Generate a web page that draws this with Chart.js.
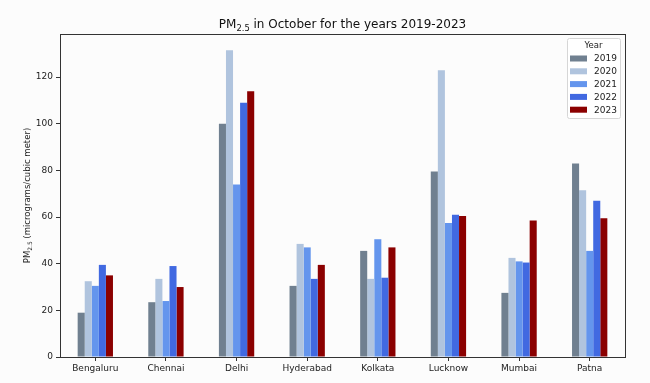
<!DOCTYPE html>
<html>
<head>
<meta charset="utf-8">
<script src="https://cdn.jsdelivr.net/npm/chart.js@4"></script>
<style>
html,body{margin:0;padding:0;background:#fcfcfc;}
#wrap{width:650px;height:383px;position:relative;}
</style>
</head>
<body>
<div id="wrap"><canvas id="c" width="650" height="383"></canvas></div>
<script>
const categories = ["Bengaluru","Chennai","Delhi","Hyderabad","Kolkata","Lucknow","Mumbai","Patna"];
const years = ["2019","2020","2021","2022","2023"];
const v2019 = [19, 23.5, 100, 30.5, 45.5, 79.5, 27.5, 83];
const v2020 = [32.5, 33.5, 131.5, 48.5, 33.5, 123, 42.5, 71.5];
const v2021 = [30.5, 24, 74, 47, 50.5, 57.5, 41, 45.5];
const v2022 = [39.5, 39, 109, 33.5, 34, 61, 40.5, 67];
const v2023 = [35, 30, 114, 39.5, 47, 60.5, 58.5, 59.5];
const yTicks = [0, 20, 40, 60, 80, 100, 120];
const colors = ["#708090", "#b0c4de", "#6495ed", "#4169e1", "#8b0000"];
const seriesValues = [v2019, v2020, v2021, v2022, v2023];

const FONT = "'DejaVu Sans', sans-serif";

function drawParts(ctx, parts, x, y, size, align) {
  let total = 0;
  const widths = parts.map(p => {
    ctx.font = (p[1] ? size * 0.7 : size) + "px " + FONT;
    const w = ctx.measureText(p[0]).width;
    total += w;
    return w;
  });
  let cx = align === 'center' ? x - total / 2 : x;
  parts.forEach((p, i) => {
    ctx.font = (p[1] ? size * 0.7 : size) + "px " + FONT;
    ctx.textAlign = 'left';
    ctx.textBaseline = 'alphabetic';
    ctx.fillText(p[0], cx, p[1] ? y + size * 0.25 : y);
    cx += widths[i];
  });
}

const decorPlugin = {
  id: 'decor',
  beforeDraw(chart) {
    const ctx = chart.ctx;
    ctx.save();
    ctx.fillStyle = '#fcfcfc';
    ctx.fillRect(0, 0, chart.width, chart.height);
    ctx.restore();
  },
  afterDraw(chart) {
    const ctx = chart.ctx;
    const a = chart.chartArea;
    ctx.save();
    ctx.strokeStyle = '#333';
    ctx.lineWidth = 1;
    ctx.strokeRect(Math.round(a.left) + 0.5, Math.round(a.top) + 0.5, Math.round(a.right - a.left), Math.round(a.bottom - a.top));
    ctx.fillStyle = '#111';
    drawParts(ctx, [["PM", false], ["2.5", true], [" in October for the years 2019-2023", false]], (a.left + a.right) / 2, 28, 12, 'center');
    ctx.save();
    ctx.translate(30, (a.top + a.bottom) / 2);
    ctx.rotate(-Math.PI / 2);
    ctx.fillStyle = '#222';
    drawParts(ctx, [["PM", false], ["2.5", true], [" (micrograms/cubic meter)", false]], 0, 0, 8.5, 'center');
    ctx.restore();
    const lx = 567, ly = 38, lw = 53, lh = 80;
    ctx.beginPath();
    if (ctx.roundRect) ctx.roundRect(lx + 0.5, ly + 0.5, lw, lh, 2); else ctx.rect(lx + 0.5, ly + 0.5, lw, lh);
    ctx.fillStyle = 'rgba(255,255,255,0.85)';
    ctx.fill();
    ctx.strokeStyle = '#d6d6d6';
    ctx.stroke();
    ctx.fillStyle = '#222';
    ctx.font = "8.5px " + FONT;
    ctx.textAlign = 'center';
    ctx.textBaseline = 'middle';
    ctx.fillText("Year", lx + lw / 2, ly + 8);
    chart.data.datasets.forEach((ds, i) => {
      const ry = ly + 20.5 + i * 12.8;
      ctx.fillStyle = ds.backgroundColor;
      ctx.fillRect(lx + 3, ry - 3, 17, 6);
      ctx.fillStyle = '#222';
      ctx.font = "9px " + FONT;
      ctx.textAlign = 'left';
      ctx.fillText(ds.label, lx + 27, ry + 0.5);
    });
    ctx.restore();
  }
};

new Chart(document.getElementById('c'), {
  type: 'bar',
  data: {
    labels: categories,
    datasets: years.map((y, i) => ({
      label: y,
      data: seriesValues[i],
      backgroundColor: colors[i],
      borderWidth: 0,
      categoryPercentage: 0.5,
      barPercentage: 1.0
    }))
  },
  options: {
    responsive: false,
    animation: false,
    devicePixelRatio: 1,
    layout: { padding: { left: 0, right: 25, top: 34, bottom: 0 } },
    plugins: {
      legend: { display: false },
      title: { display: false },
      tooltip: { enabled: false }
    },
    scales: {
      x: {
        offset: true,
        grid: { display: true, offset: false, drawOnChartArea: false, drawTicks: true, tickLength: 4, color: '#333' },
        border: { display: true, color: '#333' },
        ticks: { color: '#222', font: { family: FONT, size: 9 }, padding: 2, maxRotation: 0, autoSkip: false },
        afterFit(scale) { scale.height = 26; }
      },
      y: {
        min: 0,
        max: 138.5,
        grid: { display: true, drawOnChartArea: false, drawTicks: true, tickLength: 4, color: '#333' },
        border: { display: true, color: '#333' },
        ticks: { color: '#222', font: { family: FONT, size: 9 }, padding: 3, stepSize: 20 },
        afterBuildTicks(scale) { scale.ticks = yTicks.map(v => ({ value: v })); },
        afterFit(scale) { scale.width = 60; }
      }
    }
  },
  plugins: [decorPlugin]
});
</script>
</body>
</html>
